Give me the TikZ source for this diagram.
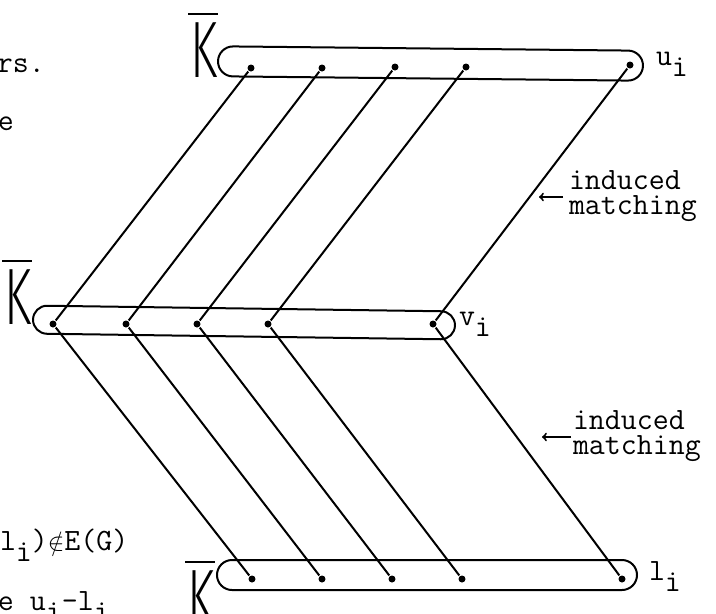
\documentclass[tikz,border=0pt]{standalone}
\usepackage{fontspec}
\newfontfamily\kfont{Fira Sans Light}
\usetikzlibrary{shapes.misc}
\newcommand{\lowr}[1]{\raisebox{-0.36em}{#1}}
\newcommand{\kbarred}{\vbox{\hrule height 2.4pt\kern 7pt\hbox{\kern2pt\scalebox{0.62}[1]{K}\kern1pt}}}

\begin{document}
\begin{tikzpicture}[x=1pt, y=-1pt, line width=2pt,
    dot/.style={circle, fill, inner sep=0pt, minimum size=7pt},
    bar/.style={draw, rounded rectangle, minimum height=30pt, inner sep=0pt},
    tt/.style={font=\fontsize{31}{25}\selectfont\ttfamily, inner sep=0pt},
    kbar/.style={font=\fontsize{80}{80}\selectfont\kfont, inner sep=0pt}]
  \useasboundingbox (0,0) rectangle (716,614);

  % the three cliques
  \node[bar, minimum width=425pt, rotate=-0.6] (top) at (430.5,63.5) {};
  \node[bar, minimum width=422pt, minimum height=28pt, rotate=-0.8] (mid) at (244,322.5) {};
  \node[bar, minimum width=420pt] (bot) at (427,575) {};

  \node[kbar, anchor=base west] (ktop) at (187,77) {\kbarred};
  \node[kbar, anchor=base west] (kmid) at (1,324) {\kbarred};
  \node[kbar, anchor=base west] (kbot) at (184,625) {\kbarred};

  % vertices
  \node[dot] (u1) at (251,68) {};
  \node[dot] (u2) at (322,68) {};
  \node[dot] (u3) at (395,67) {};
  \node[dot] (u4) at (466,67) {};
  \node[dot] (u5) at (630,65) {};

  \node[dot] (v1) at (53,324) {};
  \node[dot] (v2) at (126,324) {};
  \node[dot] (v3) at (197,324) {};
  \node[dot] (v4) at (268,324) {};
  \node[dot] (v5) at (433,324) {};

  \node[dot] (l1) at (252,579) {};
  \node[dot] (l2) at (322,579) {};
  \node[dot] (l3) at (392,579) {};
  \node[dot] (l4) at (462,579) {};
  \node[dot] (l5) at (622,579) {};

  \node[tt, anchor=base west] (ulab) at (655,65) {u\lowr{i}};
  \node[tt, anchor=base west] (vlab) at (458,325) {v\lowr{i}};
  \node[tt, anchor=base west] (llab) at (648,580) {l\lowr{i}};

  % the two induced matchings
  \draw (u1) -- (v1);
  \draw (u2) -- (v2);
  \draw (u3) -- (v3);
  \draw (u4) -- (v4);
  \draw (u5) -- (v5);

  \draw (v1) -- (l1);
  \draw (v2) -- (l2);
  \draw (v3) -- (l3);
  \draw (v4) -- (l4);
  \draw (v5) -- (l5);

  \node[tt, anchor=north west, align=left] (imtop) at (568,170) {induced\\matching};
  \node[tt, anchor=north west, align=left] (imbot) at (572,410) {induced\\matching};
  \coordinate (tailtop) at (563,197);
  \coordinate (tiptop) at (539,197);
  \coordinate (tailbot) at (571,437);
  \coordinate (tipbot) at (542,437);
  \draw[->] (tailtop) -- (tiptop);
  \draw[->] (tailbot) -- (tipbot);

  % the text cut off at the left
  \node[tt, anchor=base west] (txa) at (-4,72) {rs.};
  \node[tt, anchor=base west] (txb) at (-3,130) {e};
  \node[tt, anchor=base west] (txc) at (-1,550) {l\lowr{i})$\notin$E(G)};
  \node[tt, anchor=base west] (txd) at (-3,610) {e u\lowr{i}-l\lowr{i}};
\end{tikzpicture}
\end{document}
